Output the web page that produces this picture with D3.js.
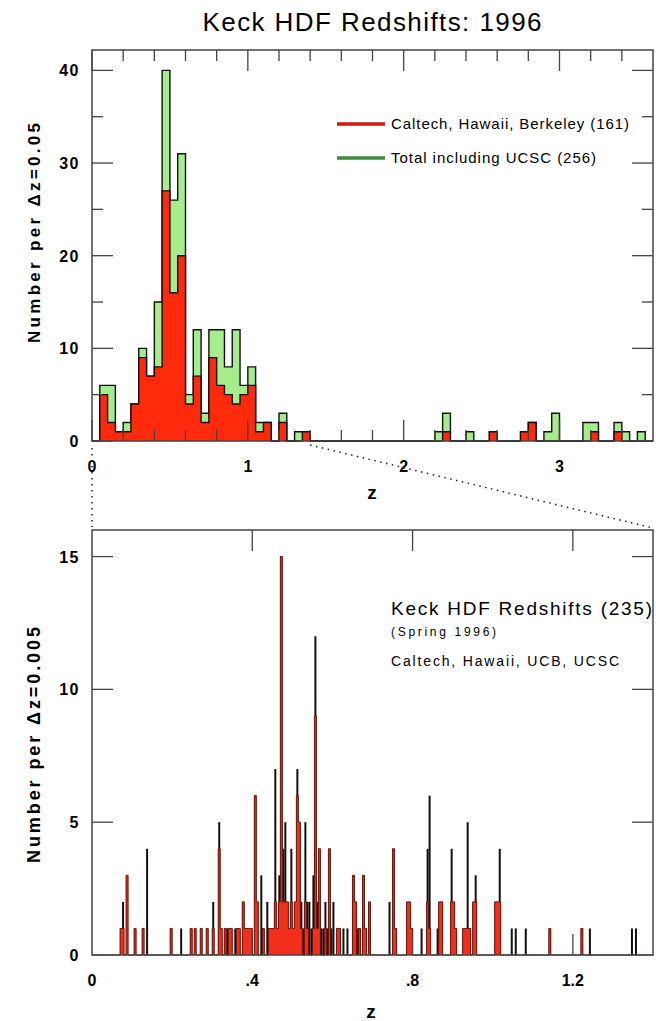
<!DOCTYPE html>
<html lang="en">
<head>
<meta charset="UTF-8">
<title>Keck HDF Redshifts: 1996</title>
<style>
  body { margin: 0; background: #fff; }
  svg { font-family: "Liberation Sans", Arial, sans-serif; }
</style>
<script src="https://cdn.jsdelivr.net/npm/d3@7"></script>
</head>
<body>
<script>
// ---- upper panel: bins of dz = 0.05 (bin start z) ----
var coarseZ     = [0.05, 0.10, 0.15, 0.20, 0.25, 0.30, 0.35, 0.40, 0.45, 0.50, 0.55, 0.60, 0.65, 0.70, 0.75, 0.80, 0.85, 0.90, 0.95, 1.00, 1.05, 1.10, 1.20, 1.30, 1.35, 2.20, 2.25, 2.40, 2.55, 2.75, 2.80, 2.90, 2.95, 3.15, 3.20, 3.35, 3.40, 3.50];
var coarseTotal = [6, 6, 1, 2, 4, 10, 7, 15, 40, 26, 31, 5, 12, 3, 12, 12, 8, 12, 6, 8, 2, 2, 3, 1, 1, 1, 3, 1, 1, 1, 2, 1, 3, 2, 2, 2, 1, 1];
var coarseCHB   = [5, 2, 1, 1, 4, 9, 7, 8, 27, 16, 20, 4, 7, 2, 9, 6, 5, 4, 5, 6, 1, 2, 2, 0, 1, 0, 1, 0, 1, 1, 2, 0, 0, 0, 1, 1, 0, 0];

// ---- lower panel: bins of dz = 0.005 (bin start z) ----
var fineZ = [0.070, 0.075, 0.085, 0.105, 0.125, 0.135, 0.195, 0.220, 0.245, 0.255, 0.270, 0.285, 0.300,
             0.315, 0.320, 0.330, 0.335, 0.340, 0.345, 0.355, 0.360, 0.365, 0.375, 0.380, 0.385, 0.390, 0.395,
             0.405, 0.410, 0.420, 0.425, 0.435, 0.440, 0.445, 0.450,
             0.455, 0.460, 0.465, 0.470, 0.475, 0.480, 0.485, 0.490, 0.495,
             0.500, 0.505, 0.510, 0.515, 0.520, 0.525, 0.530, 0.535, 0.540, 0.545,
             0.550, 0.555, 0.560, 0.565, 0.570, 0.575, 0.580, 0.585, 0.590, 0.595,
             0.600, 0.610, 0.615, 0.625, 0.635, 0.650, 0.655, 0.660, 0.665, 0.675, 0.680, 0.690,
             0.740, 0.750, 0.755, 0.785, 0.790, 0.795,
             0.820, 0.835, 0.840, 0.860, 0.865, 0.870,
             0.895, 0.900, 0.905, 0.925, 0.930, 0.935, 0.940, 0.950, 0.955,
             1.005, 1.010, 1.015, 1.045, 1.055, 1.080, 1.140, 1.220, 1.240, 1.345, 1.355];
var fineTotal = [1, 2, 3, 1, 1, 4, 1, 1, 1, 1, 1, 1, 2,
                 5, 1, 1, 1, 1, 1, 1, 1, 1, 2, 1, 1, 1, 1,
                 6, 2, 3, 1, 2, 1, 1, 1,
                 7, 1, 3, 15, 4, 5, 2, 1, 4,
                 1, 2, 7, 5, 2, 1, 5, 2, 2, 1,
                 3, 12, 2, 4, 1, 1, 2, 1, 4, 1,
                 2, 1, 1, 1, 1, 3, 2, 1, 1, 3, 1, 2,
                 2, 4, 1, 2, 2, 1,
                 1, 4, 6, 1, 2, 2,
                 4, 2, 1, 1, 1, 5, 1, 2, 3,
                 2, 2, 4, 1, 1, 1, 1, 1, 1, 1, 1];
var fineRed = [1, 1, 3, 1, 1, 0, 1, 0, 1, 1, 1, 1, 1,
               4, 1, 1, 0, 1, 1, 0, 1, 1, 2, 1, 1, 1, 1,
               6, 2, 0, 1, 0, 1, 1, 1,
               2, 1, 2, 15, 2, 2, 2, 1, 2,
               1, 2, 6, 5, 1, 0, 2, 1, 0, 0,
               1, 9, 1, 4, 0, 0, 1, 0, 4, 0,
               0, 1, 1, 0, 0, 3, 2, 0, 1, 3, 1, 2,
               0, 4, 1, 2, 2, 1,
               0, 2, 1, 0, 2, 2,
               2, 2, 1, 1, 1, 1, 1, 2, 2,
               2, 2, 2, 0, 0, 0, 1, 1, 0, 0, 0];

var topXMajor = [0, 1, 2, 3];
var topYMajor = [0, 10, 20, 30, 40];
var botXMajor = [0, 0.4, 0.8, 1.2];
var botYMajor = [0, 5, 10, 15];

var width = 656, height = 1021;
var svg = d3.select("body").append("svg").attr("width", width).attr("height", height);

var frameColor = "#444";
var redFill = "#ff2a0c", greenFill = "#a4ec8c";

// ================= upper panel =================
var tx = d3.scaleLinear().domain([0, 3.6]).range([92, 653]);
var ty = d3.scaleLinear().domain([0, 42.2]).range([441, 50]);

var dz = 0.05;
var topBins = d3.range(Math.round(3.6 / dz) + 1).map(function(i) {
    return { z: i * dz, total: 0, chb: 0 };
});
coarseZ.forEach(function(z, i) {
    var k = Math.round(z / dz);
    topBins[k].total = coarseTotal[i];
    topBins[k].chb = coarseCHB[i];
});

var upper = svg.append("g");

function stepArea(x, y, key) {
    return d3.area().curve(d3.curveStepAfter)
        .x(function(d) { return x(d.z); })
        .y0(y(0))
        .y1(function(d) { return y(d[key]); });
}
function stepLine(x, y, key) {
    return d3.line().curve(d3.curveStepAfter)
        .x(function(d) { return x(d.z); })
        .y(function(d) { return y(d[key]); });
}

upper.append("path").datum(topBins).attr("d", stepArea(tx, ty, "total")).attr("fill", greenFill);
upper.append("path").datum(topBins).attr("d", stepLine(tx, ty, "total"))
    .attr("fill", "none").attr("stroke", "#111").attr("stroke-width", 1.4);
upper.append("path").datum(topBins).attr("d", stepArea(tx, ty, "chb")).attr("fill", redFill);
upper.append("path").datum(topBins).attr("d", stepLine(tx, ty, "chb"))
    .attr("fill", "none").attr("stroke", "#111").attr("stroke-width", 1.4);

// ticks on all four sides, pointing in
function frameTicks(g, x, y, xMajor, xMinor, yMajor, yMinor, len, lenMinor) {
    var x0 = x.range()[0], x1 = x.range()[1], y0 = y.range()[0], y1 = y.range()[1];
    var t = g.append("g").attr("stroke", frameColor).attr("stroke-width", 1.3);
    xMajor.concat(xMinor).forEach(function(v, i) {
        var l = i < xMajor.length ? len : lenMinor;
        t.append("line").attr("x1", x(v)).attr("x2", x(v)).attr("y1", y0).attr("y2", y0 - l);
        t.append("line").attr("x1", x(v)).attr("x2", x(v)).attr("y1", y1).attr("y2", y1 + l);
    });
    yMajor.concat(yMinor).forEach(function(v, i) {
        var l = i < yMajor.length ? len : lenMinor;
        t.append("line").attr("y1", y(v)).attr("y2", y(v)).attr("x1", x0).attr("x2", x0 + l);
        t.append("line").attr("y1", y(v)).attr("y2", y(v)).attr("x1", x1).attr("x2", x1 - l);
    });
    g.append("rect").attr("x", x0).attr("y", y1).attr("width", x1 - x0).attr("height", y0 - y1)
        .attr("fill", "none").attr("stroke", frameColor).attr("stroke-width", 1.5);
}

var topXMinor = d3.range(0.2, 3.6, 0.2).filter(function(v) { return Math.abs(v - Math.round(v)) > 1e-6; });
var topYMinor = [5, 15, 25, 35];
frameTicks(upper, tx, ty, topXMajor, topXMinor, topYMajor, topYMinor, 21, 11);

var tickFont = { size: "16px", weight: "bold" };
upper.selectAll(".xl").data(topXMajor).enter().append("text")
    .attr("x", function(d) { return tx(d); }).attr("y", 472)
    .attr("text-anchor", "middle").attr("font-size", tickFont.size).attr("font-weight", tickFont.weight)
    .text(function(d) { return d; });
upper.selectAll(".yl").data(topYMajor).enter().append("text")
    .attr("x", 80).attr("y", function(d) { return ty(d) + 6; })
    .attr("text-anchor", "end").attr("font-size", tickFont.size).attr("font-weight", tickFont.weight)
    .attr("letter-spacing", "1.5px")
    .text(function(d) { return d; });

upper.append("text").attr("x", 372).attr("y", 499).attr("text-anchor", "middle")
    .attr("font-size", "19px").attr("font-weight", "bold").text("z");
upper.append("text").attr("transform", "translate(40,233) rotate(-90)").attr("text-anchor", "middle")
    .attr("font-size", "17px").attr("font-weight", "bold")
    .attr("textLength", 220).attr("lengthAdjust", "spacing")
    .text("Number per \u0394z=0.05");

// legend
var legend = [
    { label: "Caltech, Hawaii, Berkeley (161)", color: "#d81810", y: 124, len: 238 },
    { label: "Total including UCSC (256)", color: "#3c8c3c", y: 158, len: 205 }
];
legend.forEach(function(d) {
    upper.append("line").attr("x1", 337).attr("x2", 385).attr("y1", d.y).attr("y2", d.y)
        .attr("stroke", d.color).attr("stroke-width", 3.5);
    upper.append("text").attr("x", 391).attr("y", d.y + 5).attr("font-size", "15px")
        .attr("textLength", d.len).attr("lengthAdjust", "spacing").text(d.label);
});

svg.append("text").attr("x", 372).attr("y", 31).attr("text-anchor", "middle")
    .attr("font-size", "26px").attr("textLength", 339).attr("lengthAdjust", "spacing")
    .text("Keck HDF Redshifts: 1996");

// ================= lower panel =================
var bx = d3.scaleLinear().domain([0, 1.4]).range([92, 653]);
var by = d3.scaleLinear().domain([0, 16]).range([955, 530]);
var fdz = 0.005;

var fineBins = d3.range(Math.round(1.4 / fdz) + 1).map(function(i) {
    return { z: i * fdz, total: 0, red: 0 };
});
fineZ.forEach(function(z, i) {
    var k = Math.round(z / fdz);
    fineBins[k].total = fineTotal[i];
    fineBins[k].red = fineRed[i];
});

var lower = svg.append("g");

// zoom guide lines
var guide = svg.append("g").attr("stroke", "#222").attr("stroke-width", 1.5).attr("stroke-dasharray", "1.5,4.5");
guide.append("line").attr("x1", tx(0)).attr("y1", 448).attr("x2", bx(0)).attr("y2", 527);
guide.append("line").attr("x1", tx(1.4)).attr("y1", 445).attr("x2", bx(1.4)).attr("y2", 528);

lower.selectAll(".blk").data(fineBins.filter(function(d) { return d.total > 0; })).enter().append("rect")
    .attr("x", function(d) { return bx(d.z); })
    .attr("width", function(d) { return bx(d.z + fdz) - bx(d.z); })
    .attr("y", function(d) { return by(d.total); })
    .attr("height", function(d) { return by(0) - by(d.total); })
    .attr("fill", "#111");

lower.append("path").datum(fineBins).attr("d", stepArea(bx, by, "red")).attr("fill", "#f0301a");
lower.append("path").datum(fineBins).attr("d", stepLine(bx, by, "red"))
    .attr("fill", "none").attr("stroke", "#6a140a").attr("stroke-width", 1);

frameTicks(lower, bx, by, botXMajor.slice(1), [], botYMajor.slice(1), [], 21, 11);

lower.selectAll(".xl").data(botXMajor).enter().append("text")
    .attr("x", function(d) { return bx(d); }).attr("y", 986)
    .attr("text-anchor", "middle").attr("font-size", tickFont.size).attr("font-weight", tickFont.weight)
    .text(function(d) { return d === 0 ? "0" : d3.format(".1f")(d).replace(/^0/, ""); });
lower.selectAll(".yl").data(botYMajor).enter().append("text")
    .attr("x", 80).attr("y", function(d) { return by(d) + 6; })
    .attr("text-anchor", "end").attr("font-size", tickFont.size).attr("font-weight", tickFont.weight)
    .attr("letter-spacing", "1.5px")
    .text(function(d) { return d; });

lower.append("text").attr("x", 371).attr("y", 1018).attr("text-anchor", "middle")
    .attr("font-size", "19px").attr("font-weight", "bold").text("z");
lower.append("text").attr("transform", "translate(40,745) rotate(-90)").attr("text-anchor", "middle")
    .attr("font-size", "18px").attr("font-weight", "bold")
    .attr("textLength", 236).attr("lengthAdjust", "spacing")
    .text("Number per \u0394z=0.005");

var note = [
    { text: "Keck HDF Redshifts (235)", y: 615, size: "19px", len: 261 },
    { text: "(Spring 1996)", y: 636, size: "12px", len: 105 },
    { text: "Caltech, Hawaii, UCB, UCSC", y: 666, size: "14px", len: 228 }
];
note.forEach(function(d) {
    lower.append("text").attr("x", 391).attr("y", d.y).attr("font-size", d.size)
        .attr("textLength", d.len).attr("lengthAdjust", "spacing").text(d.text);
});
</script>
</body>
</html>
